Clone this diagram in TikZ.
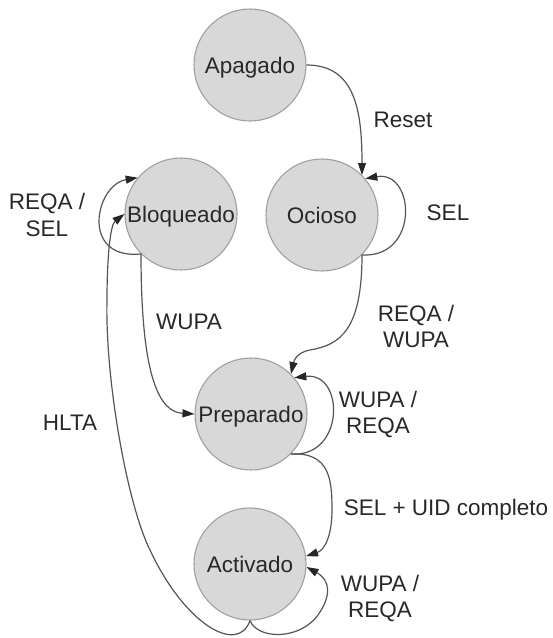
\documentclass[tikz,border=0pt]{standalone}
\usepackage{fontspec}
\setmainfont{Liberation Sans}
\usetikzlibrary{arrows.meta}
\definecolor{stfill}{RGB}{216,216,216}
\definecolor{stline}{RGB}{160,160,160}
\definecolor{edgecol}{RGB}{85,85,85}
\definecolor{txt}{RGB}{40,40,40}
\begin{document}
\begin{tikzpicture}[x=1pt,y=-1pt,
  stnode/.style={circle, draw=stline, fill=stfill, line width=1.1pt, minimum size=112pt, inner sep=0pt, text=txt, font=\fontsize{22.5}{26.5}\selectfont, text height=16pt, text depth=0pt},
  lbl/.style={text=txt, font=\fontsize{22.5}{26.5}\selectfont, align=center, inner sep=0pt},
  conn/.style={draw=edgecol, line width=1.2pt, -{Triangle[length=12pt,width=8pt,color=black!85]}}]
\fill[white] (0,0) rectangle (553,638);
\useasboundingbox (0,0) rectangle (553,638);
% states
\node[stnode] (apag) at (250,65) {Apagado};
\node[stnode] (bloq) at (181,214) {Bloqueado};
\node[stnode] (ocio) at (322,215) {Ocioso};
\node[stnode] (prep) at (251,414) {Preparado};
\node[stnode] (activ) at (250,564) {Activado};
% connectors
\draw[conn] (apag.east) .. controls (355,65) and (362,110) .. (ocio.45);
\draw[conn] (ocio.-45) .. controls (420,258) and (415,170) .. (ocio.40);
\draw[conn] (bloq.-135) .. controls (80,260) and (95,185) .. (bloq.140);
\draw[conn] (bloq.-135) .. controls (141,380) and (160,412) .. (prep.west);
\draw[conn] (activ.south) .. controls (238,655) and (185,625) .. (150,550)
   .. controls (127.5,505) and (105,380) .. (107,300)
   .. controls (107,260) and (110,225) .. (bloq.west);
\draw[conn] (ocio.-45) .. controls (362,330) and (340,345) .. (310,350)
   .. controls (298,352) and (294,360) .. (prep.45);
\draw[conn] (prep.-45) .. controls (345,458) and (345,372) .. (prep.40);
\draw[conn] (prep.-45) .. controls (330,452) and (332,480) .. (332,510)
   .. controls (332,535) and (325,550) .. (activ.8);
\draw[conn] (activ.south) .. controls (258,640) and (300,640) .. (318,615)
   .. controls (332,595) and (330,580) .. (activ.-3);
% labels
\node[lbl] (lreset) at (403,120) {Reset};
\node[lbl] (lbloq) at (47,215) {REQA /\\SEL};
\node[lbl] (locio) at (448,213) {SEL};
\node[lbl] (lwupa) at (189,322) {WUPA};
\node[lbl] (lreqa) at (416,326.5) {REQA /\\WUPA};
\node[lbl] (lhlta) at (70,423) {HLTA};
\node[lbl] (lprep) at (378,414.5) {WUPA /\\REQA};
\node[lbl] (lsel) at (446,510) {SEL + UID completo};
\node[lbl] (lactiv) at (380,598.5) {WUPA /\\REQA};
\end{tikzpicture}
\end{document}
